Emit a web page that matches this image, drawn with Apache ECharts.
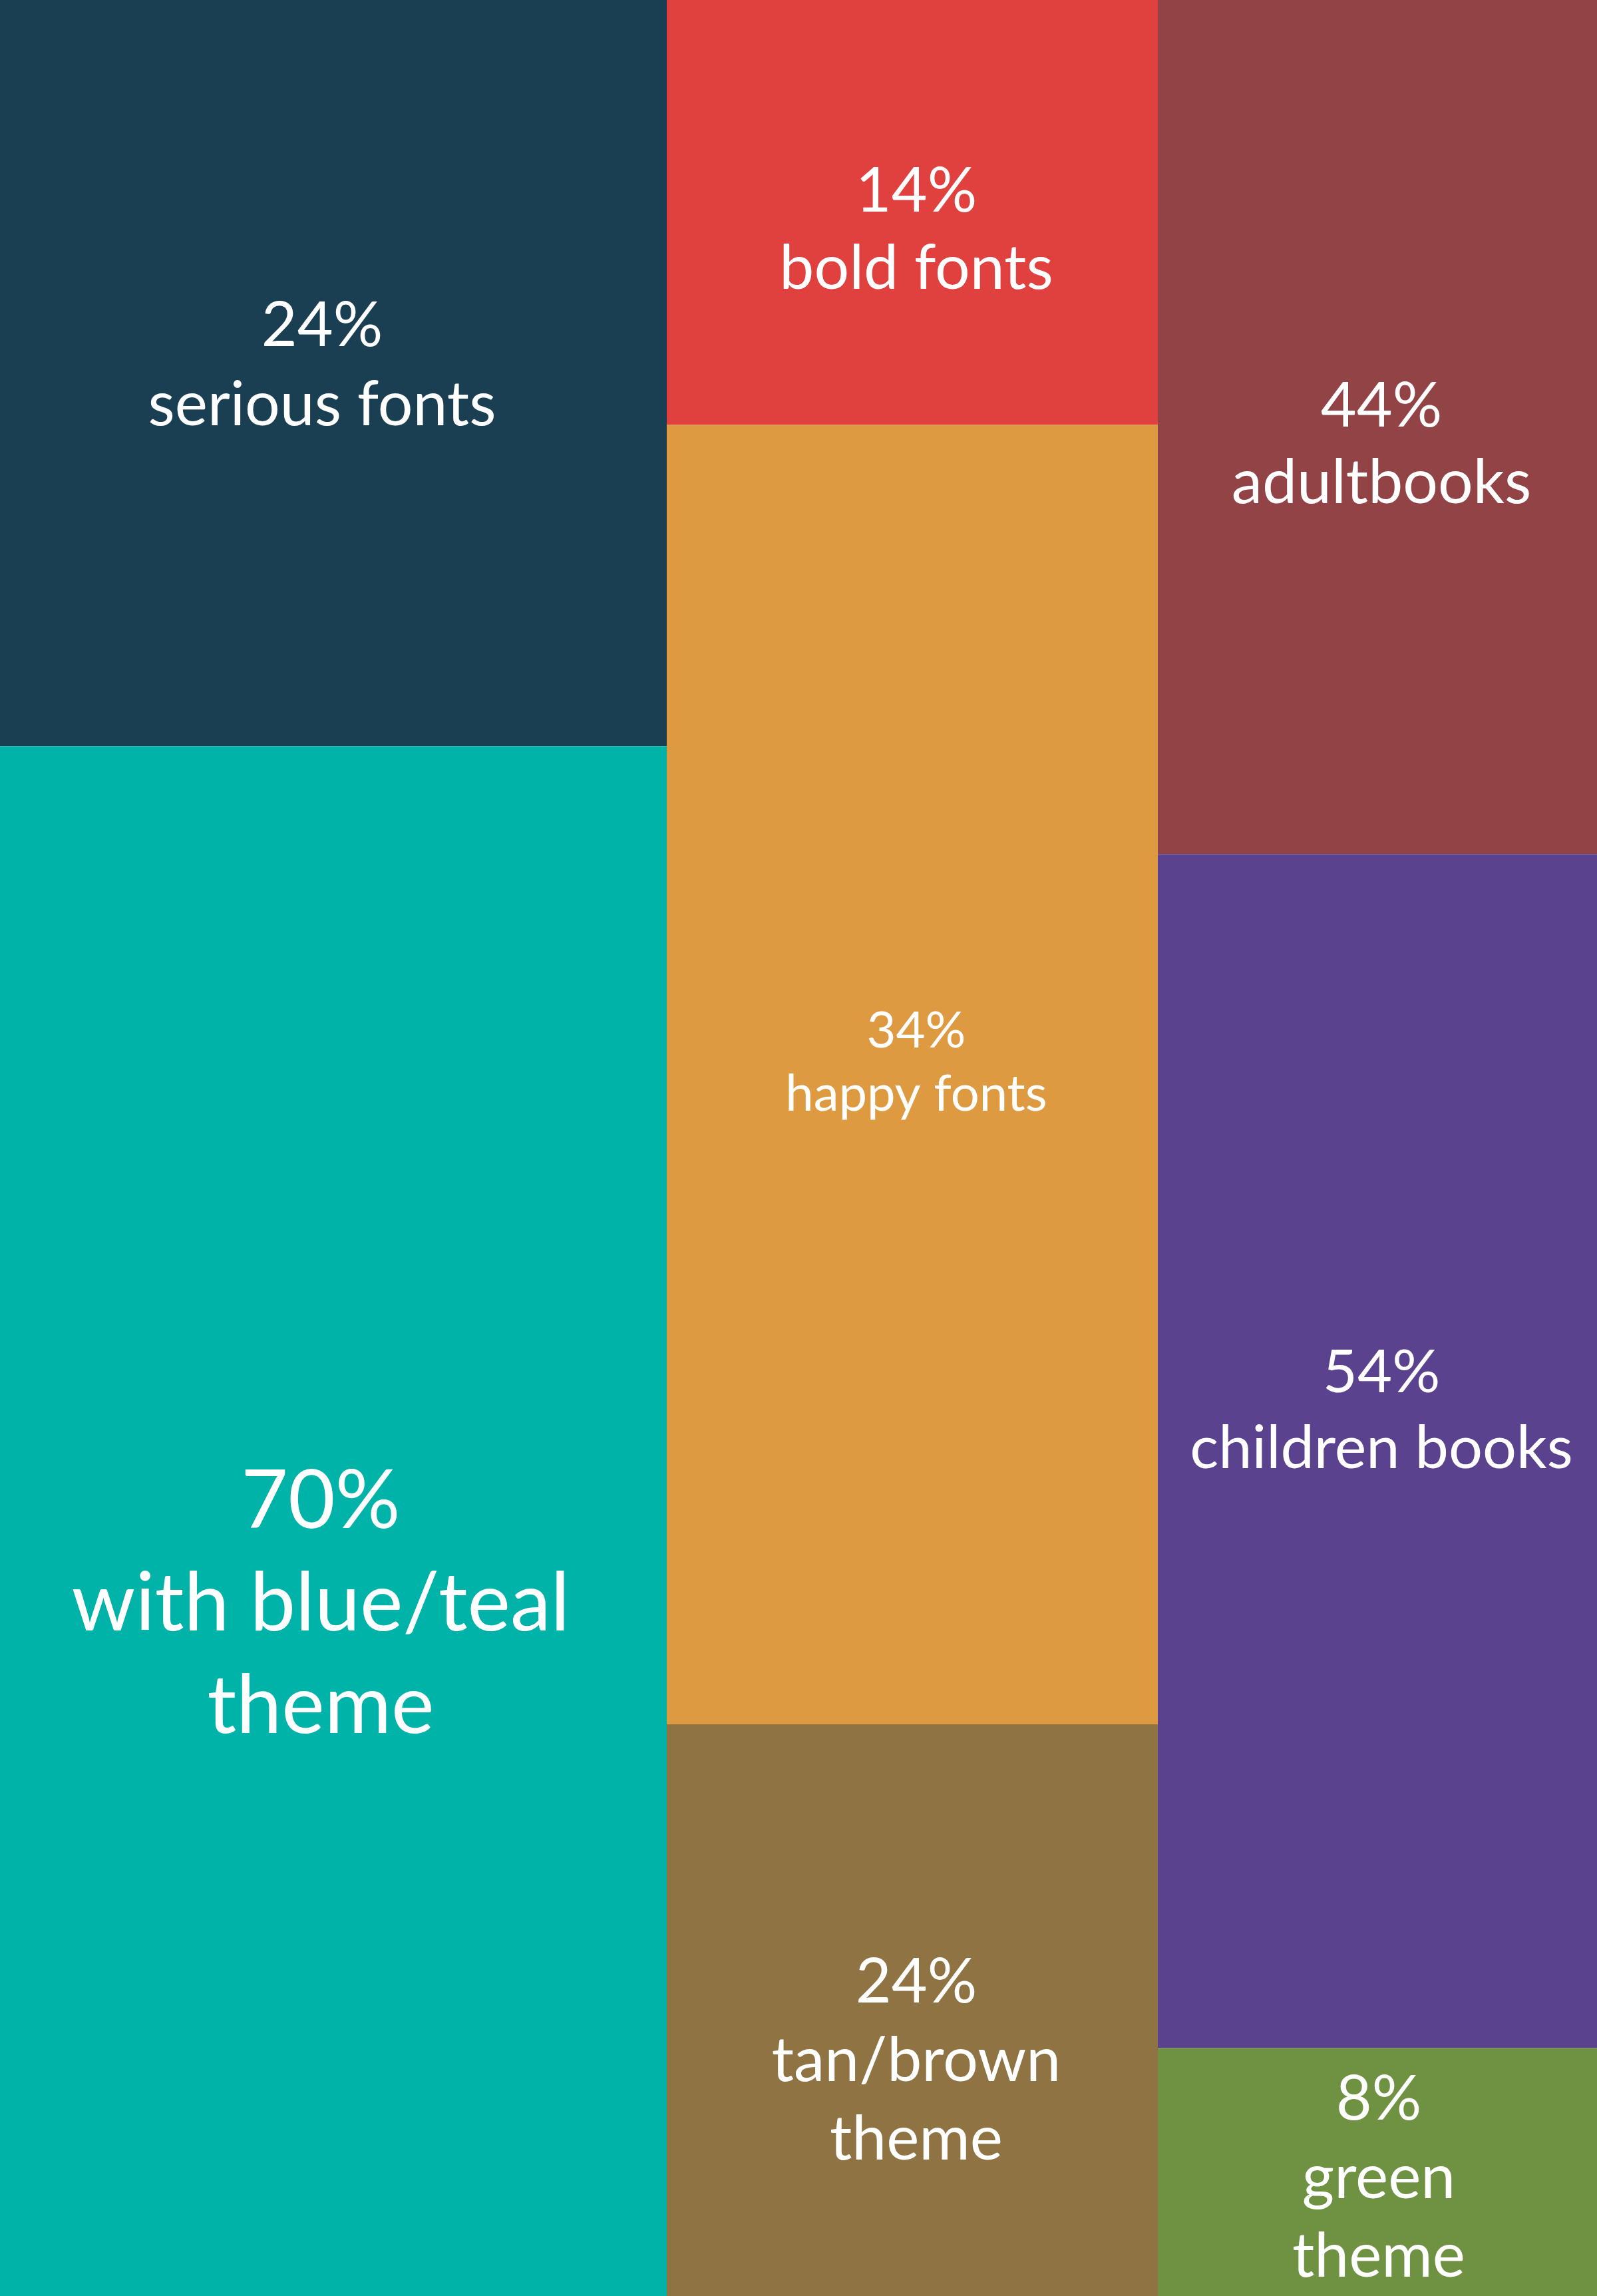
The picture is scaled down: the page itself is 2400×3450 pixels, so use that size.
<!DOCTYPE html>
<html>
<head>
<meta charset="utf-8">
<script src="https://cdn.jsdelivr.net/npm/echarts@6/dist/echarts.min.js"></script>
<style>
  html, body { margin: 0; padding: 0; background: #fff; }
  #chart { width: 2400px; height: 3450px; }
</style>
</head>
<body>
<div id="chart"></div>
<script>
// percentages printed in each block, top to bottom
const col1Pct = [24, 70];
const col2Pct = [14, 34, 24];
const col3Pct = [44, 54, 8];

const col1Names = ['serious fonts', 'with blue/teal\ntheme'];
const col2Names = ['bold fonts', 'happy fonts', 'tan/brown\ntheme'];
const col3Names = ['adultbooks', 'children books', 'green\ntheme'];

// share of the column height each block takes in the picture (not proportional to the %)
const col1Share = [32.5, 67.5];
const col2Share = [18.5, 56.6, 24.9];
const col3Share = [37.2, 52.0, 10.8];

const fontFamily = 'Lato';

// layout of the three columns, in px
const colLeft = [0, 1002, 1740];
const colWidth = [1002, 738, 660];

const cellStyle = [
  [
    {color: '#1a3f53', size: 93, lh: 119, dx: -17, dy: -11},
    {color: '#00b3a9', size: 122, lh: 154, dx: -19, dy: 125}
  ],
  [
    {color: '#e0413f', size: 93, lh: 116, dx: 6, dy: 27},
    {color: '#de9a41', size: 76, lh: 95, dx: 6, dy: -18},
    {color: '#907343', size: 93, lh: 118, dx: 6, dy: 77}
  ],
  [
    {color: '#924345', size: 93, lh: 115, dx: 6, dy: 27},
    {color: '#5b428f', size: 90, lh: 114, dx: 6, dy: -60},
    {color: '#6f9242', size: 93, lh: 118, dx: 2, dy: 9}
  ]
];

const columns = [
  {pct: col1Pct, names: col1Names, share: col1Share},
  {pct: col2Pct, names: col2Names, share: col2Share},
  {pct: col3Pct, names: col3Names, share: col3Share}
];

const grid = [], xAxis = [], yAxis = [], series = [];
columns.forEach((col, c) => {
  grid.push({left: colLeft[c], width: colWidth[c], top: 0, bottom: 0});
  xAxis.push({type: 'category', gridIndex: c, data: [''], show: false});
  yAxis.push({type: 'value', gridIndex: c, min: 0, max: 100, inverse: true, show: false});
  col.share.forEach((v, i) => {
    const st = cellStyle[c][i];
    series.push({
      type: 'bar',
      name: col.names[i],
      xAxisIndex: c,
      yAxisIndex: c,
      stack: 'col' + c,
      barWidth: '100%',
      silent: true,
      itemStyle: {color: st.color},
      label: {
        show: true,
        position: 'inside',
        color: '#fff',
        fontFamily: fontFamily,
        fontSize: st.size,
        lineHeight: st.lh,
        offset: [st.dx, st.dy],
        formatter: col.pct[i] + '%\n' + col.names[i]
      },
      data: [v]
    });
  });
});

const chart = echarts.init(document.getElementById('chart'));
chart.setOption({
  animation: false,
  grid: grid,
  xAxis: xAxis,
  yAxis: yAxis,
  series: series
});
</script>
</body>
</html>
